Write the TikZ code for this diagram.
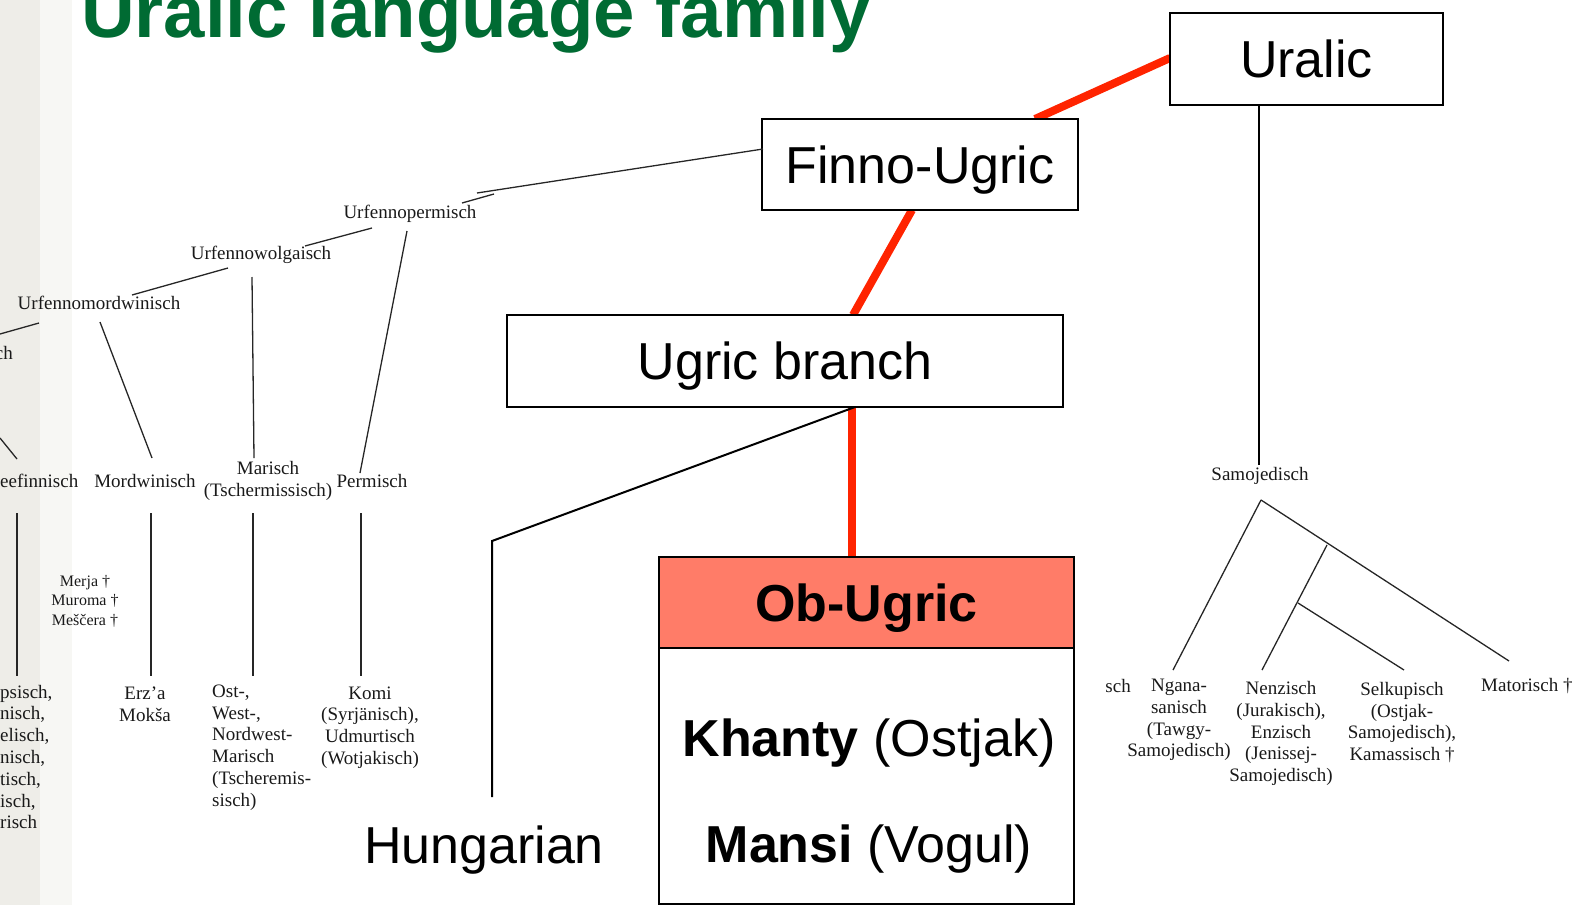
\documentclass[tikz,border=0pt]{standalone}
\usepackage{fontspec}
\setmainfont{Liberation Serif}
\newfontfamily\arialfont{Liberation Sans}
\definecolor{titlegreen}{RGB}{0,107,51}
\definecolor{redline}{RGB}{255,36,0}
\definecolor{salmon}{RGB}{255,124,104}
\definecolor{stripA}{RGB}{238,237,232}
\definecolor{stripB}{RGB}{247,247,244}
\begin{document}
\begin{tikzpicture}[x=1pt,y=-1pt,
  bigbox/.style={draw=black, line width=1.6pt, fill=white, inner sep=0pt, text depth=0pt,
    font=\arialfont\fontsize{52}{60}\selectfont},
  bigtxt/.style={inner sep=0pt, font=\arialfont\fontsize{52}{60}\selectfont},
  redconn/.style={draw=redline, line width=8pt},
  thinconn/.style={draw=black, line width=1.5pt},
  oldconn/.style={draw=black!85, line width=1.3pt},
  oldtxt/.style={inner sep=0pt, align=center, text=black!90, font=\fontsize{19}{21.8}\selectfont},
  smalltxt/.style={inner sep=0pt, align=center, text=black!90, font=\fontsize{16}{19.5}\selectfont}
]
\useasboundingbox (0,0) rectangle (1573,905);
\fill[stripA] (0,0) rectangle (40,905);
\fill[stripB] (40,0) rectangle (72,905);

% title
\node[anchor=base west, inner sep=0pt, text=titlegreen,
  font=\arialfont\bfseries\fontsize{74.4}{80}\selectfont] (title) at (81,37) {Uralic language family};

% red connectors (drawn first, boxes cover the ends)
\coordinate (uralL) at (1170,58);
\coordinate (fuTop) at (1035,119);
\coordinate (fuBot) at (912,210);
\coordinate (ugTop) at (853,315);
\coordinate (ugBot) at (852,407);
\coordinate (obTop) at (852,557);
\draw[redconn] (uralL) -- (fuTop);
\draw[redconn] (fuBot) -- (ugTop);
\draw[redconn] (ugBot) -- (obTop);

% main boxes
\node[bigbox, minimum width=273pt, minimum height=92pt] (uralic) at (1306.5,59) {Uralic};
\node[bigbox, minimum width=316pt, minimum height=91pt] (finno) at (920,164.5) {Finno-Ugric};
\node[bigbox, minimum width=556pt, minimum height=92pt] (ugric) at (785,361) {Ugric branch};
\node[bigbox, minimum width=415pt, minimum height=256pt] (obbody) at (866.5,776) {};
\node[bigbox, fill=salmon, minimum width=415pt, minimum height=91pt,
  font=\arialfont\bfseries\fontsize{52}{60}\selectfont] (obugric) at (866.5,602.5) {Ob-Ugric};
\node[bigtxt, anchor=base] (khanty) at (869,756) {\textbf{Khanty} (Ostjak)};
\node[bigtxt, anchor=base] (mansi) at (869,862) {\textbf{Mansi} (Vogul)};
\node[bigtxt, anchor=base] (hungarian) at (484,863) {Hungarian};

% Ugric -> Hungarian
\coordinate (ugHu) at (855,407);
\coordinate (huBend) at (492,541);
\coordinate (huEnd) at (492,797);
\draw[thinconn, line width=2pt] (ugHu) -- (huBend) -- (huEnd);

% Uralic -> Samojedisch
\coordinate (uralB) at (1259,105);
\coordinate (samTop) at (1259,465);
\draw[thinconn] (uralB) -- (samTop);

% ---------- Finno-Ugric old tree ----------
\node[oldtxt] (upe) at (410,214) {Urfennopermisch};
\node[oldtxt] (uwo) at (261,255) {Urfennowolgaisch};
\node[oldtxt] (umo) at (99,303) {Urfennomordwinisch};
\node[oldtxt, anchor=east] (ufi) at (13,353) {ch};

\node[oldtxt, anchor=west] (osf) at (0,481) {eefinnisch};
\node[oldtxt] (mord) at (145,481) {Mordwinisch};
\node[oldtxt] (mari) at (268,481) {Marisch\\(Tschermissisch)};
\node[oldtxt] (perm) at (372,481) {Permisch};

\node[smalltxt] (merja) at (85,601) {Merja †\\Muroma †\\Meščera †};

\node[oldtxt, anchor=west, align=left] (osflist) at (0,757)
  {psisch,\\nisch,\\elisch,\\nisch,\\tisch,\\isch,\\risch};
\node[oldtxt] (erza) at (145,704) {Erz’a\\Mokša};
\node[oldtxt, anchor=west, align=left] (marilist) at (212,747.5)
  {Ost-,\\West-,\\Nordwest-\\Marisch\\(Tscheremis-\\sisch)};
\node[oldtxt] (komi) at (370,727.5) {Komi\\(Syrjänisch),\\Udmurtisch\\(Wotjakisch)};

% old tree connectors
\coordinate (a1) at (0,334);   \coordinate (a2) at (39,323);
\coordinate (b1) at (132,295); \coordinate (b2) at (228,268);
\coordinate (c1) at (305,246); \coordinate (c2) at (372,228);
\coordinate (d1) at (462,203); \coordinate (d2) at (494,194);
\coordinate (e1) at (477,193); \coordinate (e2) at (763,149);
\coordinate (f1) at (407,231); \coordinate (f2) at (360,473);
\coordinate (g1) at (252,277); \coordinate (g2) at (254,458);
\coordinate (h1) at (100,322); \coordinate (h2) at (152,458);
\coordinate (i1) at (0,438);   \coordinate (i2) at (17,459);
\draw[oldconn] (a1) -- (a2);
\draw[oldconn] (b1) -- (b2);
\draw[oldconn] (c1) -- (c2);
\draw[oldconn] (d1) -- (d2);
\draw[oldconn] (e1) -- (e2);
\draw[oldconn] (f1) -- (f2);
\draw[oldconn] (g1) -- (g2);
\draw[oldconn] (h1) -- (h2);
\draw[oldconn] (i1) -- (i2);
\foreach \xx/\nm in {17/v1,151/v2,253/v3,361/v4}{
  \coordinate (\nm t) at (\xx,513);
  \coordinate (\nm b) at (\xx,676);
  \draw[oldconn] (\nm t) -- (\nm b);
}

% ---------- Samoyed tree ----------
\node[oldtxt] (samo) at (1260,476) {Samojedisch};
\node[oldtxt, anchor=east] (sch) at (1131,686) {sch};
\node[oldtxt] (ngana) at (1179,720) {Ngana-\\sanisch\\(Tawgy-\\Samojedisch)};
\node[oldtxt] (nenz) at (1281,733.5) {Nenzisch\\(Jurakisch),\\Enzisch\\(Jenissej-\\Samojedisch)};
\node[oldtxt] (selk) at (1402,722.5) {Selkupisch\\(Ostjak-\\Samojedisch),\\Kamassisch †};
\node[oldtxt, anchor=west] (mato) at (1481,686) {Matorisch †};

\coordinate (apex) at (1261,500);
\coordinate (ngEnd) at (1173,670);
\coordinate (maEnd) at (1509,661);
\coordinate (br1) at (1327,545);
\coordinate (neEnd) at (1262,670);
\coordinate (br2) at (1298,603);
\coordinate (seEnd) at (1404,670);
\draw[oldconn] (apex) -- (ngEnd);
\draw[oldconn] (apex) -- (maEnd);
\draw[oldconn] (br1) -- (neEnd);
\draw[oldconn] (br2) -- (seEnd);
\end{tikzpicture}
\end{document}
